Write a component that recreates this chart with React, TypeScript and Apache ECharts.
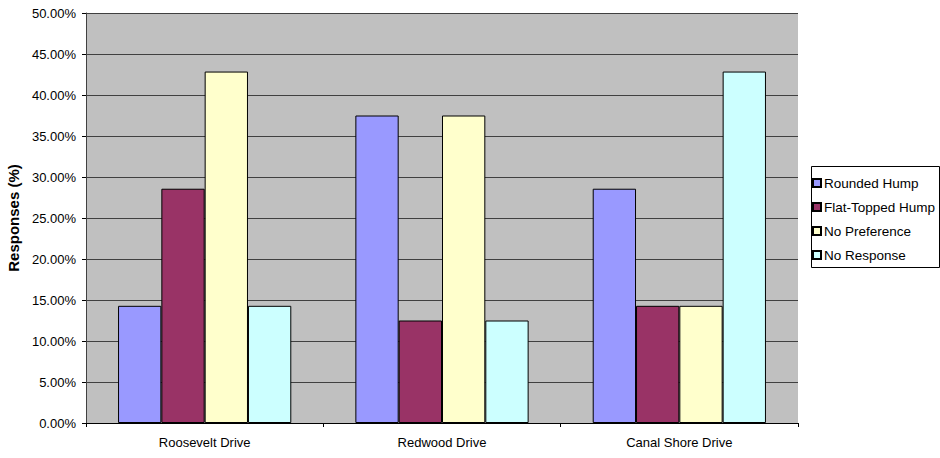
import React, { useEffect, useRef } from "react";
import * as echarts from "echarts";

const categories = ["Roosevelt Drive", "Redwood Drive", "Canal Shore Drive"];
const roundedHump = [14.29, 37.5, 28.57];
const flatToppedHump = [28.57, 12.5, 14.29];
const noPreference = [42.86, 37.5, 14.29];
const noResponse = [14.29, 12.5, 42.86];
const seriesNames = ["Rounded Hump", "Flat-Topped Hump", "No Preference", "No Response"];
const seriesColors = ["#9999FF", "#993366", "#FFFFCC", "#CCFFFF"];

export default function App() {
  const ref = useRef<HTMLDivElement>(null);
  useEffect(() => {
    if (!ref.current) return;
    const chart = echarts.init(ref.current, null, { renderer: "svg" });
    const data = [roundedHump, flatToppedHump, noPreference, noResponse];
    const font = "'Liberation Sans', Arial, sans-serif";
    chart.setOption({
      animation: false,
      textStyle: { fontFamily: font },
      grid: {
        left: 86,
        right: 142,
        top: 13,
        bottom: 35,
        show: true,
        backgroundColor: "#C0C0C0",
        borderWidth: 0,
        containLabel: false,
        outerBoundsMode: "none",
      },
      graphic: [
        {
          type: "rect",
          left: 811,
          top: 166,
          shape: { width: 128, height: 101 },
          style: { fill: "#fff", stroke: "#000", lineWidth: 1 },
          z: 0,
        },
      ],
      legend: {
        orient: "vertical",
        left: 812,
        top: 176,
        padding: 0,
        itemWidth: 8,
        itemHeight: 8,
        itemGap: 10,
        icon: "rect",
        z: 10,
        textStyle: { fontFamily: font, fontSize: 13.5, lineHeight: 14, color: "#000", padding: [0, 0, 0, -2] },
        data: seriesNames,
      },
      xAxis: {
        type: "category",
        data: categories,
        axisLine: { lineStyle: { color: "#000", width: 1 } },
        axisTick: { show: true, length: 4, lineStyle: { color: "#000" } },
        axisLabel: { color: "#000", fontSize: 13, fontFamily: font, margin: 13 },
      },
      yAxis: {
        type: "value",
        min: 0,
        max: 50,
        interval: 5,
        name: "Responses (%)",
        nameLocation: "middle",
        nameGap: 63,
        nameTextStyle: { fontWeight: "bold", fontSize: 15, color: "#000", fontFamily: font },
        axisLine: { show: true, lineStyle: { color: "#404040", width: 1 } },
        axisTick: { show: true, length: 4, lineStyle: { color: "#000" } },
        splitLine: { lineStyle: { color: "#404040", width: 1 } },
        axisLabel: {
          color: "#000",
          fontSize: 13,
          fontFamily: font,
          margin: 10,
          formatter: (v: number) => v.toFixed(2) + "%",
        },
      },
      series: seriesNames.map((name, i) => ({
        name,
        type: "bar",
        data: data[i],
        barGap: "0%",
        barCategoryGap: "27%",
        itemStyle: { color: seriesColors[i], borderColor: "#000", borderWidth: 1 },
      })),
    });
    return () => chart.dispose();
  }, []);
  return <div ref={ref} style={{ width: 940, height: 458, position: "absolute", left: 0, top: 0 }} />;
}
